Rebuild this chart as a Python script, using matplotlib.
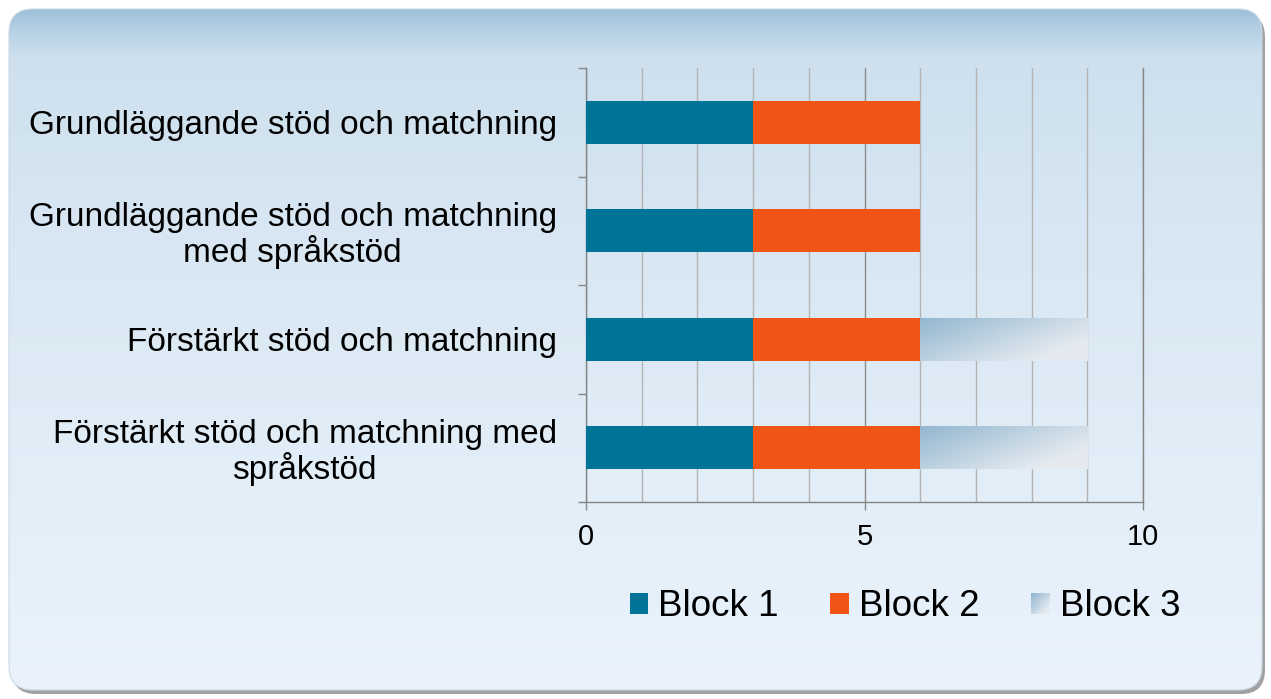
"""
Stapeldiagram: block per insats (liggande staplade staplar)
"""
import numpy as np
import matplotlib.pyplot as plt
from matplotlib.patches import FancyBboxPatch, Rectangle
from matplotlib.legend_handler import HandlerBase

# données
kategorier = ['Grundläggande stöd och matchning',
              'Grundläggande stöd och matchning\nmed språkstöd',
              'Förstärkt stöd och matchning',
              'Förstärkt stöd och matchning med\nspråkstöd']
block1 = [3, 3, 3, 3]
block2 = [3, 3, 3, 3]
block3 = [0, 0, 3, 3]
serier = ['Block 1', 'Block 2', 'Block 3']
xticks = [0, 5, 10]

FARG1 = '#007398'
FARG2 = '#f05516'
GRAD_START = np.array([0x92, 0xb6, 0xcf]) / 255
GRAD_SLUT = np.array([0xe4, 0xea, 0xf0]) / 255

plt.rcParams['font.family'] = ['Liberation Sans', 'DejaVu Sans']

W, H = 1271, 699
fig = plt.figure(figsize=(W / 100, H / 100), dpi=100)
fig.patch.set_facecolor('white')

# fond: rectangle arrondi avec dégradé vertical
ax_bg = fig.add_axes([0, 0, 1, 1])
ax_bg.set_xlim(0, W)
ax_bg.set_ylim(H, 0)
ax_bg.axis('off')

x0, y0, x1, y1 = 9, 9, 1262, 690
skugga = FancyBboxPatch((x0 + 3, y0 + 4), x1 - x0, y1 - y0,
                        boxstyle='round,pad=0,rounding_size=24',
                        fc='#7a7a7a', ec='none', alpha=0.7)
ax_bg.add_patch(skugga)
ram = FancyBboxPatch((x0, y0), x1 - x0, y1 - y0,
                     boxstyle='round,pad=0,rounding_size=24',
                     fc='none', ec='#c8d8e4', lw=0.8)
ax_bg.add_patch(ram)

ys = np.arange(y0, y1 + 1)
stopp_y = [y0, 30, 58, 300, y1]
stopp_c = np.array([[0x9c, 0xc0, 0xd9], [0xb6, 0xd1, 0xe5], [0xce, 0xe0, 0xee],
                    [0xdb, 0xe9, 0xf4], [0xea, 0xf3, 0xfc]]) / 255
grad = np.stack([np.interp(ys, stopp_y, stopp_c[:, k]) for k in range(3)], axis=-1)
grad = grad[:, None, :]
im = ax_bg.imshow(grad, extent=(x0, x1, y1, y0), aspect='auto', zorder=1)
im.set_clip_path(ram)
ram.set_zorder(2)

# graphique
ax = fig.add_axes([586 / W, 1 - 502 / H, (1143 - 586) / W, (502 - 68) / H])
ax.patch.set_alpha(0)
y = np.arange(len(kategorier))
h = 0.4
b1 = ax.barh(y, block1, height=h, color=FARG1, zorder=3)
b2 = ax.barh(y, block2, left=block1, height=h, color=FARG2, zorder=3)
b3 = ax.barh(y, block3, left=np.add(block1, block2), height=h,
             color='none', zorder=3)

# dégradé diagonal pour Block 3
u, v = np.meshgrid(np.linspace(0, 1, 200), np.linspace(0, 1, 60))
t = np.clip(0.75 * u + 0.5 * v, 0, 1)[..., None]
diag = GRAD_START * (1 - t) + GRAD_SLUT * t
for p in b3.patches:
    if p.get_width() <= 0:
        continue
    bx, by, bw, bh = p.get_x(), p.get_y(), p.get_width(), p.get_height()
    img = ax.imshow(diag, extent=(bx, bx + bw, by + bh, by), aspect='auto',
                    zorder=3, interpolation='bilinear')
    img.set_clip_path(p)

ax.set_xlim(0, 10)
ax.set_ylim(len(kategorier) - 0.5, -0.5)
ax.set_xticks(xticks)
ax.set_xticks(np.arange(1, 10), minor=True)
ax.set_yticks(y)
ax.set_yticklabels(kategorier)
ax.set_yticks(np.arange(-0.5, len(kategorier)), minor=True)
for tl in ax.get_yticklabels():
    tl.set_multialignment('center')
    tl.set_linespacing(1.1)

ax.tick_params(axis='y', which='major', length=0, pad=21, labelsize=24)
ax.tick_params(axis='y', which='minor', length=6, width=1, color='#868686', direction='out')
ax.tick_params(axis='x', which='major', length=6, width=1, color='#868686',
               direction='out', pad=9, labelsize=21)
ax.tick_params(axis='x', which='minor', length=0)

ax.grid(True, axis='x', which='minor', color='#b4b4b4', lw=1)
ax.grid(True, axis='x', which='major', color='#8c8c8c', lw=1)
ax.set_axisbelow(True)
ax.spines['top'].set_visible(False)
for s in ['left', 'bottom', 'right']:
    ax.spines[s].set_color('#868686')
    ax.spines[s].set_linewidth(1)


class GradHandler(HandlerBase):
    def create_artists(self, legend, orig, xd, yd, width, height, fontsize, trans):
        n = 10
        arts = []
        for i in range(n):
            for j in range(n):
                tt = np.clip(0.6 * i / (n - 1) + 0.6 * (n - 1 - j) / (n - 1), 0, 1)
                c = GRAD_START * (1 - tt) + GRAD_SLUT * tt
                r = Rectangle((-xd + width * i / n, -yd + height * j / n),
                              width / n + 0.3, height / n + 0.3,
                              fc=c, ec='none', transform=trans)
                arts.append(r)
        return arts


h3 = Rectangle((0, 0), 1, 1, fc='#bcd0de')
fig.legend([b1, b2, h3], serier, loc='center', bbox_to_anchor=(905 / W, 1 - 607 / H),
           ncol=3, frameon=False, fontsize=26.5, handlelength=0.5, handleheight=0.5,
           handletextpad=0.28, columnspacing=1.4,
           handler_map={h3: GradHandler()})

fig.savefig('out.png', dpi=100)
